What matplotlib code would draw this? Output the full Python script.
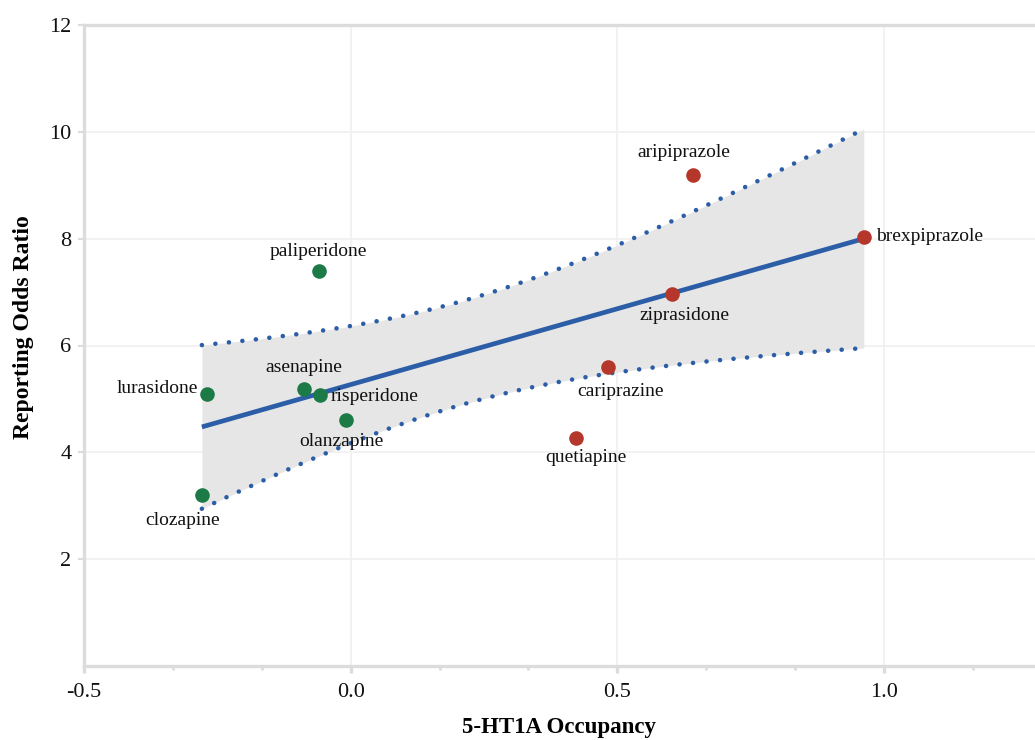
import numpy as np
import matplotlib
matplotlib.use("Agg")
import matplotlib.pyplot as plt
from matplotlib.ticker import MultipleLocator

# ---- data ----
drugs = ["lurasidone", "clozapine", "asenapine", "risperidone", "paliperidone", "olanzapine",
         "aripiprazole", "brexpiprazole", "ziprasidone", "cariprazine", "quetiapine"]
occupancy = [-0.270, -0.279, -0.088, -0.058, -0.060, -0.009,
             0.641, 0.962, 0.602, 0.482, 0.422]
odds_ratio = [5.10, 3.20, 5.18, 5.07, 7.40, 4.60,
              9.20, 8.04, 6.97, 5.59, 4.26]
group = ["g", "g", "g", "g", "g", "g", "r", "r", "r", "r", "r"]
x_ticks = [-0.5, 0.0, 0.5, 1.0]
x_tick_labels = ["-0.5", "0.0", "0.5", "1.0"]
y_ticks = [2, 4, 6, 8, 10, 12]
t_crit = 2.262  # 95% t quantile, df = 9

# ---- layout / style (not data) ----
label_offsets = {  # (dx, dy) in points, ha
    "lurasidone": (-6, 4, "right"),
    "clozapine": (-14, -18, "center"),
    "asenapine": (0, 16, "center"),
    "risperidone": (8, -1, "left"),
    "paliperidone": (0, 14, "center"),
    "olanzapine": (-3, -15, "center"),
    "aripiprazole": (-6, 16, "center"),
    "brexpiprazole": (9, 0, "left"),
    "ziprasidone": (9, -16, "center"),
    "cariprazine": (9, -17, "center"),
    "quetiapine": (7, -14, "center"),
}
colors = {"g": "#1b7a45", "r": "#b5362a"}
blue = "#2c5ea8"
axis_grey = "#dcdcdc"

plt.rcParams["font.family"] = ["Liberation Serif", "DejaVu Serif"]

fig = plt.figure(figsize=(10.35, 7.4), dpi=100)
ax = fig.add_axes([84 / 1035, 1 - 666 / 740, 1 - 84 / 1035, (666 - 25) / 740])

x = np.array(occupancy)
y = np.array(odds_ratio)
n = len(x)
slope, intercept = np.polyfit(x, y, 1)
resid = y - (slope * x + intercept)
s = np.sqrt(np.sum(resid ** 2) / (n - 2))
sxx = np.sum((x - x.mean()) ** 2)
xs = np.linspace(x.min(), x.max(), 200)
fit = slope * xs + intercept
hw = t_crit * s * np.sqrt(1 / n + (xs - x.mean()) ** 2 / sxx)

ax.fill_between(xs, fit - hw, fit + hw, color="#e6e6e6", lw=0, zorder=1)
dot_style = dict(color=blue, lw=3.3, ls=(0, (0.01, 2.95)), dash_capstyle="round", zorder=2)
ax.plot(xs, fit + hw, **dot_style)
ax.plot(xs, fit - hw, **dot_style)
ax.plot(xs, fit, color=blue, lw=3.4, solid_capstyle="butt", zorder=3)

for d, xi, yi, g in zip(drugs, occupancy, odds_ratio, group):
    ax.plot(xi, yi, "o", ms=10.5, color=colors[g], mec="none", zorder=4)
    dx, dy, ha = label_offsets[d]
    ax.annotate(d, (xi, yi), xytext=(dx, dy), textcoords="offset points",
                ha=ha, va="center", fontsize=14, color="#111111", zorder=5)

ax.set_xlim(-0.5, 1.283)
ax.set_ylim(0, 12)
ax.set_xticks(x_ticks)
ax.set_xticklabels(x_tick_labels)
ax.xaxis.set_minor_locator(MultipleLocator(1 / 6))
ax.set_yticks(y_ticks)
ax.set_yticklabels([str(v) for v in y_ticks])

ax.grid(True, which="major", color="#f0f0f0", lw=1.2, zorder=0)
ax.set_axisbelow(True)
for side in ["left", "bottom", "top"]:
    ax.spines[side].set_color(axis_grey)
    ax.spines[side].set_linewidth(2.4)
ax.spines["right"].set_visible(False)

ax.tick_params(axis="x", which="major", length=5, width=2.4, color=axis_grey,
               labelsize=16, pad=7, labelcolor="#111111")
ax.tick_params(axis="x", which="minor", length=3, width=2, color=axis_grey)
ax.tick_params(axis="y", which="major", length=4, width=1.5, color=axis_grey,
               labelsize=16, pad=5, labelcolor="#111111")

ax.set_xlabel("5-HT1A Occupancy", fontsize=16.5, fontweight="bold", labelpad=11)
ax.set_ylabel("Reporting Odds Ratio", fontsize=17, fontweight="bold")
ax.yaxis.set_label_coords(-50 / 951, (666 - 327) / 641)

fig.savefig("out.png", dpi=100)
